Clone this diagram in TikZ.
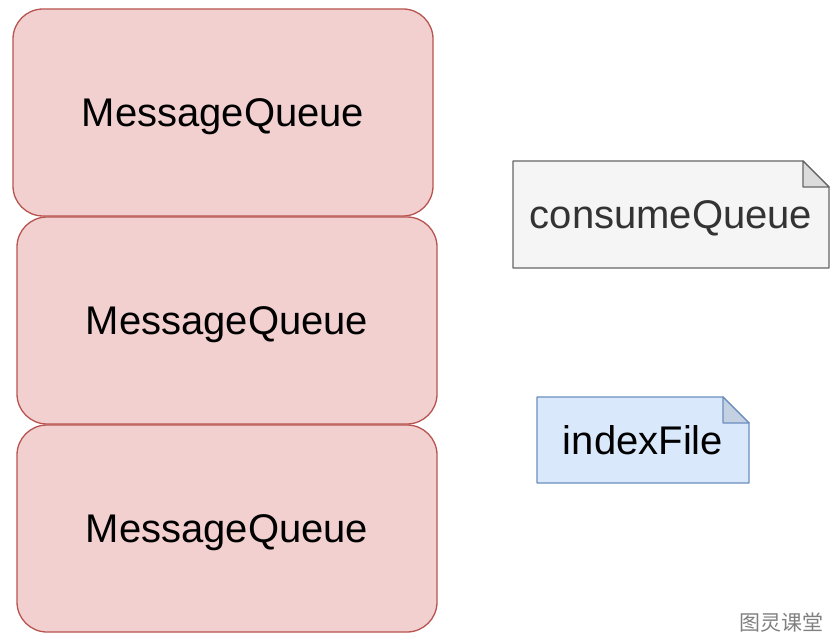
\documentclass[tikz,border=0pt]{standalone}
\usepackage{fontspec}
\setmainfont{Liberation Sans}
\newfontfamily\cjk{Noto Sans CJK SC}
\usepackage{tikz}
\usetikzlibrary{positioning,backgrounds}
\definecolor{mqfill}{HTML}{F2D0CF}
\definecolor{mqline}{HTML}{B85450}
\definecolor{cqfill}{HTML}{F5F5F5}
\definecolor{cqline}{HTML}{666666}
\definecolor{cqtext}{HTML}{333333}
\definecolor{ixfill}{HTML}{DAE8FC}
\definecolor{ixline}{HTML}{6C8EBF}
\tikzset{node distance=1pt, auto,
  mqbox/.style={draw=mqline, fill=mqfill, line width=1.3pt, rounded corners=30pt,
    minimum width=420pt, minimum height=207pt, outer sep=0pt, text depth=0pt,
    font=\fontsize{40}{48}\selectfont},
  notebox/.style={minimum width=#1, outer sep=0pt, inner sep=0pt,
    font=\fontsize{40}{48}\selectfont},
  noteline/.style={line width=1.3pt, line join=round}
}

\begin{document}
\begin{tikzpicture}[x=1pt, y=-1pt]
\useasboundingbox (0,0) rectangle (838,644);
\node[mqbox] (mq1) at (223,112.5) {MessageQueue};
\node[mqbox, below=1pt of mq1, xshift=4pt] (mq2) {MessageQueue};
\node[mqbox, below=1pt of mq2] (mq3) {MessageQueue};

\node[notebox=316pt, minimum height=107pt, text depth=0pt, text=cqtext] (cq) at (671,214.5) {consumeQueue};
\node[notebox=212pt, minimum height=86pt] (ix) at (643,440) {indexFile};

\node[font=\cjk\fontsize{21}{24}\selectfont, text=black!50] (mark) at (781,623) {图灵课堂};

% note outlines with folded corner
\begin{scope}[on background layer]
  \foreach \n/\f/\l in {cq/cqfill/cqline, ix/ixfill/ixline}{
    \draw[noteline, draw=\l, fill=\f] (\n.south west) -- (\n.north west)
      -- ([xshift=-26pt]\n.north east) -- ([yshift=-26pt]\n.north east)
      -- (\n.south east) -- cycle;
    \draw[noteline, draw=\l, fill=\f!90!black] ([xshift=-26pt]\n.north east)
      -- ([xshift=-26pt, yshift=-26pt]\n.north east) -- ([yshift=-26pt]\n.north east) -- cycle;
  }
\end{scope}
\end{tikzpicture}
\end{document}
